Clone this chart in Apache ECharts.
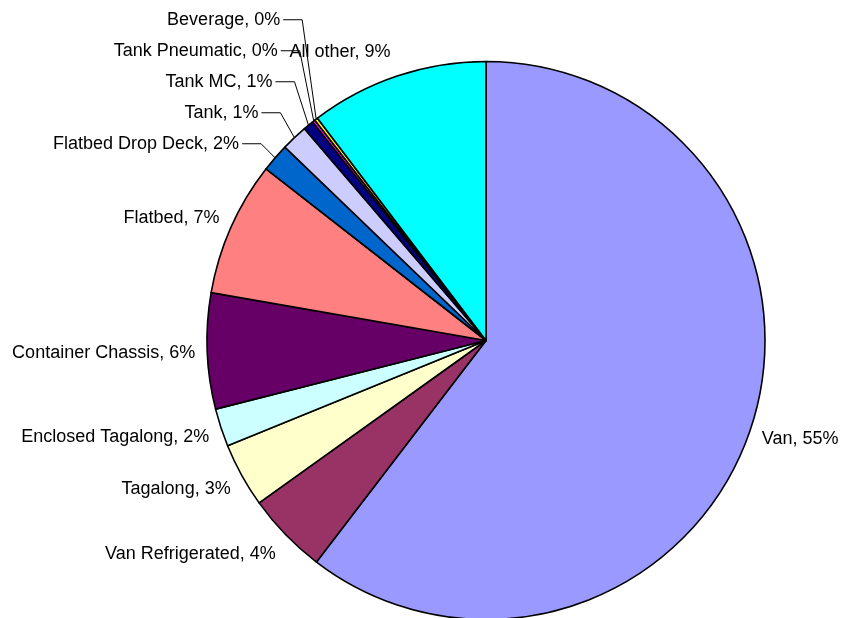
<!DOCTYPE html>
<html>
<head>
<meta charset="utf-8">
<script src="https://cdn.jsdelivr.net/npm/echarts@6/dist/echarts.min.js"></script>
<style>
html,body{margin:0;padding:0;background:#fff;}
#chart{width:841px;height:618px;}
</style>
</head>
<body>
<div id="chart"></div>
<script>
const categories = ['Van', 'Van Refrigerated', 'Tagalong', 'Enclosed Tagalong', 'Container Chassis', 'Flatbed', 'Flatbed Drop Deck', 'Tank', 'Tank MC', 'Tank Pneumatic', 'Beverage', 'All other'];
const values = [55.0, 4.3, 3.4, 2.0, 6.1, 7.1, 1.5, 1.4, 0.55, 0.15, 0.17, 9.4];
const colors = ['#9999FF', '#993366', '#FFFFCC', '#CCFFFF', '#660066', '#FF8080', '#0066CC', '#CCCCFF', '#000080', '#FF00FF', '#FFFF00', '#00FFFF'];

const CX = 486, CY = 340.5, R = 279;
const SMALL = 1.8;

// label placement rule (Excel-like): offset outward from slice mid-point, stack small labels upward
const total = values.reduce((a, b) => a + b, 0);
const labelPos = [];
(function () {
  let acc = 0, prevSmallY = null;
  values.forEach((v, i) => {
    const a = (acc + v / 2) / total * 2 * Math.PI;
    acc += v;
    const dx = Math.sin(a), dy = -Math.cos(a);
    const px = CX + R * dx, py = CY + R * dy;
    if (v < SMALL) {
      let y = py + 23 * dy + 1;
      if (prevSmallY !== null) y = Math.min(y, prevSmallY - 31);
      prevSmallY = y;
      const xr = px - 36;
      labelPos.push({ x: xr, y: y, align: 'right', line: [[px, py], [px - 14, y], [xr + 3, y]] });
    } else {
      const y = py + 26 * dy + 1;
      const off = 4 + 8 * Math.abs(dx);
      labelPos.push({ x: px + (dx < 0 ? -off : off), y: y, align: dx < 0 ? 'right' : 'left' });
    }
  });
})();

const chart = echarts.init(document.getElementById('chart'), null, { renderer: 'canvas' });
chart.setOption({
  backgroundColor: '#ffffff',
  animation: false,
  series: [{
    type: 'pie',
    center: [CX, CY],
    radius: R,
    startAngle: 90,
    clockwise: true,
    avoidLabelOverlap: false,
    minAngle: 0,
    itemStyle: { borderColor: '#000000', borderWidth: 1.6 },
    label: {
      show: true,
      position: 'outside',
      color: '#000000',
      fontFamily: 'Liberation Sans, Arial, sans-serif',
      fontSize: 18,
      formatter: p => p.name + ', ' + Math.round(p.value) + '%'
    },
    labelLine: { show: true, lineStyle: { color: '#000000', width: 1 } },
    labelLayout: function (params) {
      const p = labelPos[params.dataIndex];
      const r = { x: p.x, y: p.y, align: p.align, verticalAlign: 'middle' };
      if (p.line) r.labelLinePoints = p.line;
      return r;
    },
    emphasis: { disabled: true },
    data: categories.map((c, i) => ({
      name: c,
      value: values[i],
      itemStyle: { color: colors[i] },
      labelLine: { show: values[i] < SMALL }
    }))
  }]
});
</script>
</body>
</html>
